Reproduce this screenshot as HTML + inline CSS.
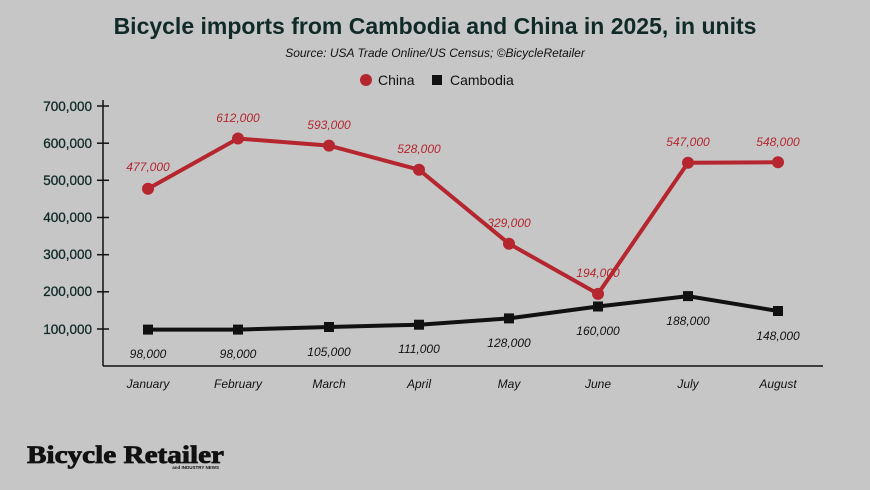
<!DOCTYPE html>
<html><head><meta charset="utf-8"><style>
body{margin:0;background:#c6c6c6;}
svg{display:block;font-family:"Liberation Sans",sans-serif;}
</style></head><body>
<svg width="870" height="490" viewBox="0 0 870 490">
<rect width="870" height="490" fill="#c6c6c6"/>
<text x="435" y="34" text-anchor="middle" font-size="23" font-weight="bold" fill="#102a28">Bicycle imports from Cambodia and China in 2025, in units</text>
<text x="435" y="57" text-anchor="middle" font-size="12" font-style="italic" fill="#111">Source: USA Trade Online/US Census; ©BicycleRetailer</text>
<circle cx="366" cy="80" r="6" fill="#b5262e"/>
<text x="378" y="85" font-size="14" fill="#111">China</text>
<rect x="432" y="75" width="10" height="10" fill="#111"/>
<text x="450" y="85" font-size="14" fill="#111">Cambodia</text>
<g stroke="#111" stroke-width="1.5">
<line x1="103" y1="100" x2="103" y2="366"/>
<line x1="103" y1="366" x2="823" y2="366"/>
<line x1="97" y1="106" x2="109" y2="106"/>
<line x1="97" y1="143.2" x2="109" y2="143.2"/>
<line x1="97" y1="180.3" x2="109" y2="180.3"/>
<line x1="97" y1="217.5" x2="109" y2="217.5"/>
<line x1="97" y1="254.7" x2="109" y2="254.7"/>
<line x1="97" y1="291.8" x2="109" y2="291.8"/>
<line x1="97" y1="329" x2="109" y2="329"/>
</g>
<g font-size="13.5" fill="#102a28" text-anchor="end" stroke="#102a28" stroke-width="0.3">
<text x="92" y="111">700,000</text>
<text x="92" y="148">600,000</text>
<text x="92" y="185">500,000</text>
<text x="92" y="222">400,000</text>
<text x="92" y="259">300,000</text>
<text x="92" y="296">200,000</text>
<text x="92" y="334">100,000</text>
</g>
<g font-size="12" font-style="italic" fill="#111" text-anchor="middle">
<text x="148" y="388">January</text>
<text x="238" y="388">February</text>
<text x="329" y="388">March</text>
<text x="419" y="388">April</text>
<text x="509" y="388">May</text>
<text x="598" y="388">June</text>
<text x="688" y="388">July</text>
<text x="778" y="388">August</text>
</g>
<polyline fill="none" stroke="#111" stroke-width="4" points="148,329.6 238,329.6 329,327 419,324.7 509,318.4 598,306.5 688,296.1 778,311"/>
<g fill="#111">
<rect x="143" y="324.6" width="10" height="10"/>
<rect x="233" y="324.6" width="10" height="10"/>
<rect x="324" y="322" width="10" height="10"/>
<rect x="414" y="319.7" width="10" height="10"/>
<rect x="504" y="313.4" width="10" height="10"/>
<rect x="593" y="301.5" width="10" height="10"/>
<rect x="683" y="291.1" width="10" height="10"/>
<rect x="773" y="306" width="10" height="10"/>
</g>
<polyline fill="none" stroke="#b5262e" stroke-width="4" points="148,188.7 238,138.5 329,145.6 419,169.7 509,243.7 598,293.9 688,162.7 778,162.3"/>
<g fill="#b5262e">
<circle cx="148" cy="188.7" r="6"/><circle cx="238" cy="138.5" r="6"/><circle cx="329" cy="145.6" r="6"/><circle cx="419" cy="169.7" r="6"/>
<circle cx="509" cy="243.7" r="6"/><circle cx="598" cy="293.9" r="6"/><circle cx="688" cy="162.7" r="6"/><circle cx="778" cy="162.3" r="6"/>
</g>
<g font-size="12" font-style="italic" fill="#b5262e" text-anchor="middle">
<text x="148" y="171">477,000</text>
<text x="238" y="122">612,000</text>
<text x="329" y="129">593,000</text>
<text x="419" y="153">528,000</text>
<text x="509" y="227">329,000</text>
<text x="598" y="277">194,000</text>
<text x="688" y="146">547,000</text>
<text x="778" y="146">548,000</text>
</g>
<g font-size="12" font-style="italic" fill="#111" text-anchor="middle">
<text x="148" y="358">98,000</text>
<text x="238" y="358">98,000</text>
<text x="329" y="356">105,000</text>
<text x="419" y="353">111,000</text>
<text x="509" y="347">128,000</text>
<text x="598" y="335">160,000</text>
<text x="688" y="325">188,000</text>
<text x="778" y="340">148,000</text>
</g>
<text x="27" y="463" font-family="'Liberation Serif',serif" font-weight="bold" font-size="25" fill="#111" stroke="#111" stroke-width="0.8" textLength="197" lengthAdjust="spacingAndGlyphs">Bicycle Retailer</text>
<text x="219" y="469" text-anchor="end" font-size="4.5" font-weight="bold" fill="#111">and INDUSTRY NEWS</text>
</svg>
</body></html>
